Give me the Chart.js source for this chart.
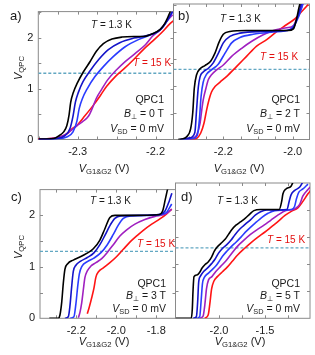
<!DOCTYPE html>
<html><head><meta charset="utf-8">
<script src="https://cdn.jsdelivr.net/npm/chart.js@4.4.1/dist/chart.umd.min.js"></script>
<style>
body{margin:0;width:315px;height:355px;position:relative;background:#fff;font-family:'Liberation Sans',Arial,sans-serif;overflow:hidden}
canvas{position:absolute}
.t{position:absolute;white-space:nowrap;color:#1a1a1a;line-height:1;transform:translateY(-50%)}
.r{text-align:right}
.c{transform:translate(-50%,-50%)}
.yt{position:absolute;white-space:nowrap;color:#1a1a1a;line-height:1;font-size:11px;transform:translate(-50%,-50%) rotate(-90deg)}
sub{font-size:70%;vertical-align:baseline;position:relative;top:0.3em}
.pl{font-size:13px}
.an{font-size:10.5px}
.tl{font-size:10px}
.red{color:#e31010}
</style>
</head><body>
<canvas id="ca" width="176" height="178" style="left:0;top:0"></canvas>
<canvas id="cb" width="145" height="178" style="left:170px;top:0"></canvas>
<canvas id="cc" width="178" height="177" style="left:0;top:178px"></canvas>
<canvas id="cd" width="143" height="177" style="left:172px;top:178px"></canvas>

<div class="t pl" style="left:10px;top:15px">a)</div>
<div class="t pl" style="left:178px;top:15px">b)</div>
<div class="t pl" style="left:11px;top:196px">c)</div>
<div class="t pl" style="left:181px;top:196px">d)</div>

<div class="yt" style="left:18px;top:68px"><i>V</i><sub>QPC</sub></div>
<div class="yt" style="left:18px;top:247px"><i>V</i><sub>QPC</sub></div>

<div class="t c" style="left:104px;top:168px;font-size:11px"><i>V</i><sub>G1&amp;G2</sub> (V)</div>
<div class="t c" style="left:239px;top:168px;font-size:11px"><i>V</i><sub>G1&amp;G2</sub> (V)</div>
<div class="t c" style="left:104px;top:341px;font-size:11px"><i>V</i><sub>G1&amp;G2</sub> (V)</div>
<div class="t c" style="left:240px;top:341px;font-size:11px"><i>V</i><sub>G1&amp;G2</sub> (V)</div>

<div class="t tl" style="left:91px;top:25px"><i>T</i> = 1.3 K</div>
<div class="t tl red" style="left:133px;top:63px"><i>T</i> = 15 K</div>
<div class="t an r" style="right:151px;top:99px">QPC1</div>
<div class="t an r" style="right:151px;top:113px"><i>B</i><sub>⊥</sub> = 0 T</div>
<div class="t an r" style="right:151px;top:127.5px"><i>V</i><sub>SD</sub> = 0 mV</div>

<div class="t tl" style="left:220px;top:19px"><i>T</i> = 1.3 K</div>
<div class="t tl red" style="left:260px;top:57px"><i>T</i> = 15 K</div>
<div class="t an r" style="right:15px;top:99px">QPC1</div>
<div class="t an r" style="right:15px;top:113px"><i>B</i><sub>⊥</sub> = 2 T</div>
<div class="t an r" style="right:15px;top:127.5px"><i>V</i><sub>SD</sub> = 0 mV</div>

<div class="t tl" style="left:90px;top:201px"><i>T</i> = 1.3 K</div>
<div class="t tl red" style="left:137px;top:244px"><i>T</i> = 15 K</div>
<div class="t an r" style="right:149px;top:282.5px">QPC1</div>
<div class="t an r" style="right:149px;top:295px"><i>B</i><sub>⊥</sub> = 3 T</div>
<div class="t an r" style="right:149px;top:307.5px"><i>V</i><sub>SD</sub> = 0 mV</div>

<div class="t tl" style="left:217px;top:201px"><i>T</i> = 1.3 K</div>
<div class="t tl red" style="left:267px;top:240px"><i>T</i> = 15 K</div>
<div class="t an r" style="right:15px;top:282.5px">QPC1</div>
<div class="t an r" style="right:15px;top:295px"><i>B</i><sub>⊥</sub> = 5 T</div>
<div class="t an r" style="right:15px;top:307.5px"><i>V</i><sub>SD</sub> = 0 mV</div>

<script>
// ---------- data (V_G1&G2 [V], V_QPC) ----------
const dashLevel = 1.3;
const yTicksLabelled = [0, 1, 2];

// panel a: B = 0 T
const aXTicks = [-2.3, -2.2];
const aBlack = [[-2.35,0.01],[-2.331,0.02],[-2.325,0.065],[-2.318,0.15],[-2.314,0.27],[-2.311,0.49],[-2.309,0.73],[-2.3056,0.92],[-2.3004,1.11],[-2.293,1.32],[-2.284,1.53],[-2.276,1.73],[-2.267,1.88],[-2.256,1.97],[-2.243,2.01],[-2.228,2.02],[-2.216,2.02],[-2.205,2.07],[-2.194,2.16],[-2.188,2.28],[-2.183,2.44],[-2.18,2.55]];
const aBlue1 = [[-2.35,0],[-2.329,0.015],[-2.316,0.08],[-2.31,0.21],[-2.306,0.46],[-2.303,0.73],[-2.299,0.93],[-2.293,1.14],[-2.284,1.35],[-2.273,1.57],[-2.261,1.76],[-2.246,1.9],[-2.228,1.99],[-2.211,2.04],[-2.198,2.11],[-2.19,2.22],[-2.182,2.41],[-2.178,2.52]];
const aBlue2 = [[-2.35,0],[-2.329,0.01],[-2.314,0.05],[-2.306,0.15],[-2.301,0.36],[-2.298,0.61],[-2.294,0.8],[-2.288,0.99],[-2.278,1.23],[-2.267,1.43],[-2.254,1.63],[-2.239,1.82],[-2.222,1.96],[-2.207,2.05],[-2.194,2.15],[-2.183,2.38],[-2.178,2.5]];
const aPurple = [[-2.35,0.005],[-2.329,0.03],[-2.318,0.08],[-2.31,0.16],[-2.301,0.27],[-2.293,0.36],[-2.286,0.46],[-2.281,0.62],[-2.276,0.81],[-2.269,0.99],[-2.261,1.18],[-2.25,1.37],[-2.239,1.53],[-2.226,1.69],[-2.213,1.86],[-2.203,2.04],[-2.194,2.15],[-2.186,2.31],[-2.178,2.45]];
const aRed = [[-2.351,0.015],[-2.3356,0.02],[-2.323,0.05],[-2.314,0.11],[-2.308,0.2],[-2.301,0.28],[-2.291,0.46],[-2.28,0.67],[-2.271,0.86],[-2.263,1.04],[-2.252,1.23],[-2.241,1.38],[-2.228,1.57],[-2.216,1.76],[-2.203,1.94],[-2.192,2.1],[-2.181,2.28],[-2.177,2.33]];

// panel b: B = 2 T
const bXTicks = [-2.2, -2.0];
const bBlack = [[-2.33,0],[-2.32,0.01],[-2.3057,0.05],[-2.294,0.2],[-2.288,0.5],[-2.2836,0.95],[-2.277,1.2],[-2.267,1.31],[-2.253,1.37],[-2.2365,1.45],[-2.224,1.6],[-2.2125,1.8],[-2.2,1.95],[-2.181,2.0],[-2.133,2.02],[-2.0655,2.02],[-2.013,2.02],[-1.998,2.05],[-1.989,2.23],[-1.981,2.47],[-1.978,2.53]];
const bBlue1 = [[-2.325,0],[-2.296,0.03],[-2.282,0.13],[-2.277,0.55],[-2.272,0.97],[-2.267,1.16],[-2.258,1.25],[-2.243,1.32],[-2.229,1.42],[-2.214,1.6],[-2.2,1.79],[-2.181,1.91],[-2.152,1.97],[-2.094,2.0],[-2.017,2.02],[-1.998,2.07],[-1.987,2.25],[-1.977,2.47],[-1.971,2.6]];
const bBlue2 = [[-2.315,0],[-2.286,0.02],[-2.275,0.08],[-2.269,0.36],[-2.264,0.8],[-2.258,1.06],[-2.248,1.21],[-2.234,1.29],[-2.214,1.4],[-2.195,1.6],[-2.176,1.79],[-2.152,1.89],[-2.114,1.95],[-2.056,1.99],[-2.008,2.04],[-1.989,2.19],[-1.974,2.44],[-1.968,2.6]];
const bPurple = [[-2.306,0],[-2.286,0.03],[-2.277,0.08],[-2.267,0.3],[-2.262,0.55],[-2.258,0.73],[-2.25,0.95],[-2.243,1.11],[-2.234,1.2],[-2.219,1.29],[-2.2,1.38],[-2.176,1.54],[-2.147,1.69],[-2.118,1.82],[-2.085,1.94],[-2.056,2.02],[-2.017,2.07],[-1.998,2.11],[-1.984,2.31],[-1.969,2.53]];
const bRed = [[-2.296,0],[-2.277,0.02],[-2.265,0.12],[-2.2557,0.3],[-2.248,0.55],[-2.241,0.74],[-2.234,0.88],[-2.224,0.98],[-2.21,1.06],[-2.19,1.17],[-2.162,1.35],[-2.133,1.54],[-2.104,1.73],[-2.075,1.85],[-2.046,2.0],[-2.017,2.13],[-1.993,2.24],[-1.974,2.37],[-1.955,2.5]];

// panel c: B = 3 T
const cXTicks = [-2.2, -2.0, -1.8];
const cBlack = [[-2.335,0],[-2.29,0],[-2.282,0.06],[-2.273,0.31],[-2.265,0.68],[-2.257,0.95],[-2.243,1.06],[-2.215,1.13],[-2.182,1.19],[-2.148,1.26],[-2.115,1.35],[-2.082,1.52],[-2.057,1.74],[-2.032,1.96],[-2.007,2.0],[-1.915,2.0],[-1.79,2.01],[-1.768,2.09],[-1.755,2.31],[-1.743,2.52]];
const cBlue1 = [[-2.257,0],[-2.24,0.03],[-2.232,0.23],[-2.223,0.62],[-2.215,0.91],[-2.202,1.03],[-2.178,1.11],[-2.145,1.18],[-2.112,1.27],[-2.082,1.43],[-2.057,1.61],[-2.032,1.8],[-2.007,1.94],[-1.978,1.99],[-1.882,2.0],[-1.782,2.02],[-1.757,2.08],[-1.735,2.28],[-1.722,2.43]];
const cBlue2 = [[-2.232,0],[-2.212,0.03],[-2.202,0.28],[-2.193,0.62],[-2.185,0.86],[-2.172,1.01],[-2.145,1.1],[-2.112,1.17],[-2.078,1.27],[-2.045,1.43],[-2.015,1.63],[-1.99,1.81],[-1.965,1.94],[-1.928,1.99],[-1.832,2.0],[-1.773,2.02],[-1.748,2.06],[-1.723,2.22]];
const cPurple = [[-2.19,0.01],[-2.182,0.11],[-2.173,0.3],[-2.165,0.55],[-2.157,0.79],[-2.145,0.92],[-2.128,1.01],[-2.102,1.08],[-2.073,1.16],[-2.045,1.28],[-2.015,1.43],[-1.982,1.6],[-1.948,1.72],[-1.907,1.83],[-1.857,1.92],[-1.807,1.98],[-1.765,2.01],[-1.74,2.06],[-1.723,2.12]];
const cRed = [[-2.145,0.09],[-2.135,0.22],[-2.123,0.4],[-2.112,0.58],[-2.102,0.8],[-2.088,0.91],[-2.065,0.98],[-2.032,1.08],[-1.998,1.2],[-1.965,1.34],[-1.932,1.48],[-1.898,1.6],[-1.865,1.71],[-1.823,1.83],[-1.782,1.93],[-1.748,2.03],[-1.723,2.12]];

// panel d: B = 5 T
const dXTicks = [-2.0, -1.5];
const dBlack = [[-2.47,0],[-2.301,0],[-2.29,0.18],[-2.283,0.49],[-2.272,0.77],[-2.239,0.8],[-2.21,0.85],[-2.184,0.93],[-2.154,0.99],[-2.118,1.04],[-2.081,1.13],[-2.051,1.24],[-2.018,1.32],[-1.982,1.38],[-1.934,1.46],[-1.897,1.55],[-1.86,1.64],[-1.816,1.72],[-1.768,1.78],[-1.713,1.85],[-1.669,1.92],[-1.621,1.99],[-1.548,2.01],[-1.346,2.01],[-1.32,2.15],[-1.305,2.3],[-1.272,2.39],[-1.217,2.44],[-1.188,2.55]];
const dBlue1 = [[-2.283,0],[-2.246,0.03],[-2.232,0.31],[-2.221,0.67],[-2.202,0.78],[-2.165,0.87],[-2.118,0.94],[-2.081,1.01],[-2.044,1.09],[-2.007,1.2],[-1.963,1.29],[-1.915,1.36],[-1.871,1.44],[-1.824,1.55],[-1.768,1.66],[-1.713,1.74],[-1.658,1.82],[-1.603,1.91],[-1.548,1.97],[-1.482,2.0],[-1.261,2.01],[-1.239,2.15],[-1.217,2.28],[-1.18,2.36],[-1.125,2.42],[-1.088,2.52]];
const dBlue2 = [[-2.239,0],[-2.21,0.03],[-2.195,0.31],[-2.18,0.64],[-2.158,0.76],[-2.118,0.83],[-2.074,0.9],[-2.033,0.97],[-1.996,1.06],[-1.96,1.15],[-1.915,1.24],[-1.864,1.33],[-1.813,1.41],[-1.757,1.51],[-1.702,1.61],[-1.647,1.7],[-1.592,1.78],[-1.537,1.86],[-1.467,1.94],[-1.393,1.99],[-1.217,2.01],[-1.18,2.06],[-1.158,2.21],[-1.132,2.33],[-1.088,2.39],[-1.033,2.48]];
const dPurple = [[-2.21,0],[-2.173,0.04],[-2.154,0.25],[-2.136,0.55],[-2.114,0.71],[-2.077,0.77],[-2.037,0.86],[-1.982,0.96],[-1.926,1.06],[-1.871,1.18],[-1.805,1.32],[-1.732,1.44],[-1.658,1.55],[-1.585,1.64],[-1.511,1.72],[-1.438,1.81],[-1.357,1.91],[-1.272,1.99],[-1.18,2.02],[-1.125,2.1],[-1.088,2.26],[-1.033,2.38],[-1.0,2.44]];
const dRed = [[-2.154,0],[-2.118,0.06],[-2.099,0.28],[-2.081,0.54],[-2.055,0.69],[-2.018,0.77],[-1.963,0.86],[-1.908,0.95],[-1.853,1.06],[-1.798,1.17],[-1.724,1.29],[-1.651,1.4],[-1.577,1.5],[-1.504,1.59],[-1.43,1.69],[-1.357,1.79],[-1.283,1.9],[-1.21,1.98],[-1.143,2.04],[-1.088,2.16],[-1.033,2.3],[-0.996,2.38]];

// ---------- styling ----------
const COLORS = ['#000000', '#1414c8', '#2a3cff', '#a020c0', '#ff1414'];
const FONT = "'Liberation Sans', Arial, sans-serif";

const framePlugin = {
  id: 'frame',
  beforeDatasetsDraw(chart, args, o) {
    const {ctx, chartArea: a, scales: {x, y}} = chart;
    ctx.save();
    ctx.strokeStyle = '#8a8a8a';
    ctx.lineWidth = 1;
    ctx.strokeRect(a.left, a.top, a.right - a.left, a.bottom - a.top);
    const L = 3;
    ctx.beginPath();
    const x0 = Math.ceil(x.min / o.xStep - 1e-6);
    for (let k = x0; k * o.xStep <= x.max + 1e-9; k++) {
      const px = Math.round(x.getPixelForValue(k * o.xStep)) + 0.5;
      ctx.moveTo(px, a.bottom); ctx.lineTo(px, a.bottom - L);
      ctx.moveTo(px, a.top); ctx.lineTo(px, a.top + L);
    }
    for (let k = 1; k * 0.5 < y.max; k++) {
      const py = Math.round(y.getPixelForValue(k * 0.5)) + 0.5;
      ctx.moveTo(a.left, py); ctx.lineTo(a.left + L, py);
      ctx.moveTo(a.right, py); ctx.lineTo(a.right - L, py);
    }
    ctx.stroke();
    ctx.restore();
  }
};

function panel(id, series, xMin, xMax, xTicks, xStep, yMax, showY, pad, yW, xH) {
  const ds = series.map((s, i) => ({
    data: s.map(p => ({x: p[0], y: p[1]})),
    borderColor: COLORS[i], borderWidth: 1.6, pointRadius: 0,
    showLine: true, cubicInterpolationMode: 'monotone', fill: false, order: i
  }));
  ds.push({
    data: [{x: xMin, y: dashLevel}, {x: xMax, y: dashLevel}],
    borderColor: '#62a7c2', borderWidth: 1.3, borderDash: [3, 2],
    pointRadius: 0, showLine: true, fill: false, order: 10
  });
  new Chart(document.getElementById(id), {
    type: 'scatter',
    data: {datasets: ds},
    plugins: [framePlugin],
    options: {
      responsive: false, animation: false, events: [],
      layout: {autoPadding: false, padding: {left: pad.l, top: pad.t, right: pad.r, bottom: 0}},
      plugins: {legend: {display: false}, tooltip: {enabled: false}, frame: {xStep: xStep}},
      scales: {
        x: {
          type: 'linear', min: xMin, max: xMax,
          grid: {display: false, drawTicks: false}, border: {display: false},
          afterBuildTicks: s => { s.ticks = xTicks.map(v => ({value: v})); },
          afterFit: s => { s.height = xH; },
          ticks: {font: {family: FONT, size: 11}, color: '#1a1a1a', padding: 6,
                  maxRotation: 0, autoSkip: false, callback: v => Number(v).toFixed(1)}
        },
        y: {
          type: 'linear', min: 0, max: yMax, display: showY,
          grid: {display: false, drawTicks: false}, border: {display: false},
          afterBuildTicks: s => { s.ticks = yTicksLabelled.map(v => ({value: v})); },
          afterFit: s => { s.width = yW; },
          ticks: {font: {family: FONT, size: 11}, color: '#1a1a1a', padding: 5,
                  callback: v => String(v)}
        }
      }
    }
  });
}

panel('ca', [aBlack, aBlue1, aBlue2, aPurple, aRed], -2.3506, -2.1769, aXTicks, 0.025, 2.51, true, {l: 0, t: 4, r: 2.5}, 38.3, 38.5);
panel('cb', [bBlack, bBlue1, bBlue2, bPurple, bRed], -2.3435, -1.9516, bXTicks, 0.05, 2.51, false, {l: 3.5, t: 4, r: 5.5}, 0, 38.5);
panel('cc', [cBlack, cBlue1, cBlue2, cPurple, cRed], -2.3815, -1.704, cXTicks, 0.1, 2.5, true, {l: 0, t: 5, r: 2.5}, 40, 36.7);
panel('cd', [dBlack, dBlue1, dBlue2, dPurple, dRed], -2.473, -1.011, dXTicks, 0.25, 2.5, false, {l: 3.5, t: 5, r: 5}, 0, 36.7);
</script>
</body></html>
